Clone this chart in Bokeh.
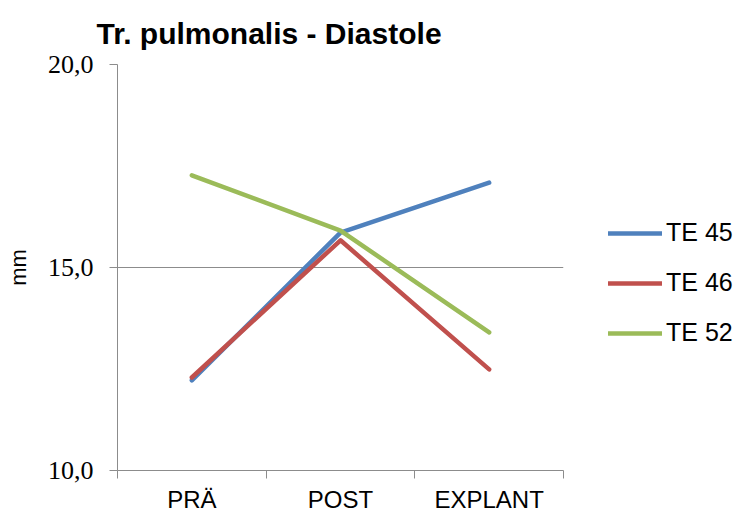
from bokeh.plotting import figure
from bokeh.models import Range1d, FixedTicker, Legend, LegendItem
from bokeh.embed import file_html
from bokeh.resources import INLINE

categories = ["PRÄ", "POST", "EXPLANT"]
te45 = [12.22, 15.86, 17.09]
te46 = [12.29, 15.67, 12.49]
te52 = [17.27, 15.91, 13.40]
series_names = ["TE 45", "TE 46", "TE 52"]
series_colors = ["#4F81BD", "#C0504D", "#9BBB59"]
y_ticks = [10, 15, 20]
y_tick_labels = ["10,0", "15,0", "20,0"]
title_text = "Tr. pulmonalis - Diastole"

xpos = [i + 0.5 for i in range(len(categories))]

p = figure(frame_width=446, frame_height=406, output_backend="svg", toolbar_location=None,
           x_range=Range1d(0, len(categories)), y_range=Range1d(10, 20),
           min_border_left=117, min_border_right=10, min_border_top=64,
           min_border_bottom=45)
p.outline_line_color = None
p.background_fill_color = "white"
p.border_fill_color = "white"

p.title.text = title_text
p.title.text_font = "Liberation Sans"
p.title.text_font_size = "30px"
p.title.text_font_style = "bold"
p.title.text_color = "black"
p.title.align = "left"
p.title.vertical_align = "top"
p.title.offset = -21
p.title.standoff = 26

gray = "#8C8C8C"
xa = p.xaxis[0]
xa.ticker = FixedTicker(ticks=xpos, minor_ticks=list(range(len(categories) + 1)))
xa.major_label_overrides = {x: c for x, c in zip(xpos, categories)}
xa.major_tick_out = 0
xa.major_tick_in = 0
xa.minor_tick_out = 8
xa.minor_tick_in = 0
xa.minor_tick_line_color = gray
xa.axis_line_color = gray
xa.major_label_text_font = "Liberation Sans"
xa.major_label_text_font_size = "24px"
xa.major_label_text_color = "black"
xa.major_label_standoff = 7

ya = p.yaxis[0]
ya.ticker = FixedTicker(ticks=y_ticks, minor_ticks=[])
ya.major_label_overrides = {t: l for t, l in zip(y_ticks, y_tick_labels)}
ya.major_tick_out = 8
ya.major_tick_in = 0
ya.minor_tick_out = 0
ya.minor_tick_in = 0
ya.major_tick_line_color = gray
ya.axis_line_color = gray
ya.major_label_text_font = "Liberation Serif"
ya.major_label_text_font_size = "26px"
ya.major_label_text_color = "black"
ya.major_label_standoff = 16
ya.axis_label = "mm"
ya.axis_label_text_font = "Liberation Sans"
ya.axis_label_text_font_size = "22px"
ya.axis_label_text_font_style = "normal"
ya.axis_label_text_color = "black"
ya.axis_label_standoff = 14

p.xgrid.visible = False
p.ygrid.ticker = FixedTicker(ticks=y_ticks)
p.ygrid.grid_line_color = gray
p.ygrid.grid_line_width = 1

items = []
for name, vals, col in zip(series_names, [te45, te46, te52], series_colors):
    r = p.line(xpos, vals, line_color=col, line_width=4.5, line_cap="round", line_join="round")
    items.append(LegendItem(label=name, renderers=[r]))

legend = Legend(items=items, location=(45, 123), border_line_color=None,
                background_fill_alpha=0, padding=0, margin=0,
                glyph_width=54, glyph_height=20, label_height=20, spacing=21,
                label_standoff=4, label_text_font="Liberation Sans",
                label_text_font_size="25px", label_text_color="black")
p.add_layout(legend, "right")

open("out.html", "w").write(file_html(p, INLINE))
